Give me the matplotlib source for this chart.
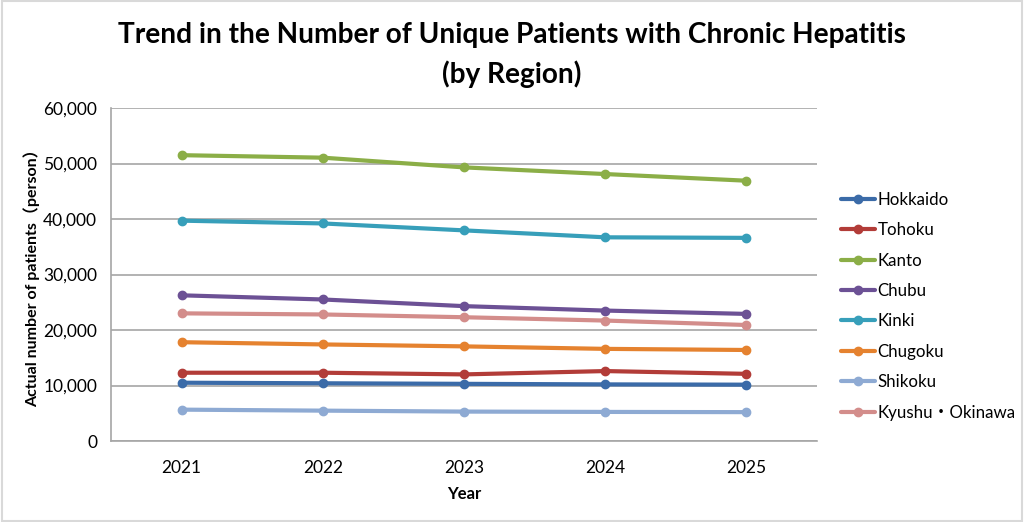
import matplotlib
matplotlib.use("Agg")
import matplotlib.pyplot as plt
import matplotlib.patches as patches
from matplotlib.ticker import FuncFormatter

years = ["2021", "2022", "2023", "2024", "2025"]
regions = ["Hokkaido", "Tohoku", "Kanto", "Chubu", "Kinki", "Chugoku", "Shikoku", "Kyushu・Okinawa"]

hokkaido = [10500, 10400, 10300, 10200, 10150]
tohoku = [12300, 12300, 12000, 12600, 12100]
kanto = [51500, 51050, 49300, 48100, 46900]
chubu = [26250, 25500, 24300, 23500, 22900]
kinki = [39700, 39200, 37950, 36700, 36600]
chugoku = [17800, 17400, 17050, 16600, 16400]
shikoku = [5650, 5470, 5300, 5240, 5200]
kyushu_okinawa = [23000, 22800, 22300, 21700, 20900]

series = [hokkaido, tohoku, kanto, chubu, kinki, chugoku, shikoku, kyushu_okinawa]
colors = ["#3B6BA8", "#B23C38", "#8BAE47", "#6C5195", "#379FBA", "#E5822F", "#8EAAD3", "#D38D8B"]

fam = ["Lato", "Noto Sans CJK JP"]
plt.rcParams["font.family"] = fam

fig = plt.figure(figsize=(10.24, 5.22), dpi=100)
# outer border of the chart area
fig.patches.append(patches.Rectangle((0.002, 0.002), 0.996, 0.996, transform=fig.transFigure,
                                     fill=False, edgecolor="#D9D9D9", linewidth=1.5))

ax = fig.add_axes([111 / 1024, 1 - 441 / 522, (817 - 111) / 1024, (441 - 108) / 522])
x = list(range(len(years)))
for name, vals, c in zip(regions, series, colors):
    ax.plot(x, vals, color=c, linewidth=3, marker="o", markersize=6, label=name,
            solid_capstyle="round")

ax.set_xlim(-0.5, len(years) - 0.5)
ax.set_ylim(0, 60000)
ax.set_yticks(range(0, 60001, 10000))
ax.yaxis.set_major_formatter(FuncFormatter(lambda v, p: f"{int(v):,}"))
ax.set_xticks(x)
ax.set_xticklabels(years)
ax.grid(axis="y", color="#A6A6A6", linewidth=1.2)
ax.set_axisbelow(True)
for s in ["top", "right"]:
    ax.spines[s].set_visible(False)
for s in ["left", "bottom"]:
    ax.spines[s].set_color("#A6A6A6")
    ax.spines[s].set_linewidth(1.2)
ax.tick_params(axis="both", length=0, labelsize=12.5, pad=10, colors="#000000")
ax.tick_params(axis="x", pad=14)

ax.set_xlabel("Year", fontsize=12, fontweight="bold", labelpad=7)
ax.set_ylabel("Actual number of patients（person）", fontsize=11.5, fontweight="bold", labelpad=2)

fig.suptitle("Trend in the Number of Unique Patients with Chronic Hepatitis\n(by Region)",
             fontsize=20.2, fontweight="bold", y=0.958, x=0.5, linespacing=1.55)

ax.legend(loc="center left", bbox_to_anchor=(1.012, 0.405), frameon=False, fontsize=12.2,
          handlelength=2.05, handletextpad=0.12, labelspacing=0.85)

fig.savefig("out.png", dpi=100)
